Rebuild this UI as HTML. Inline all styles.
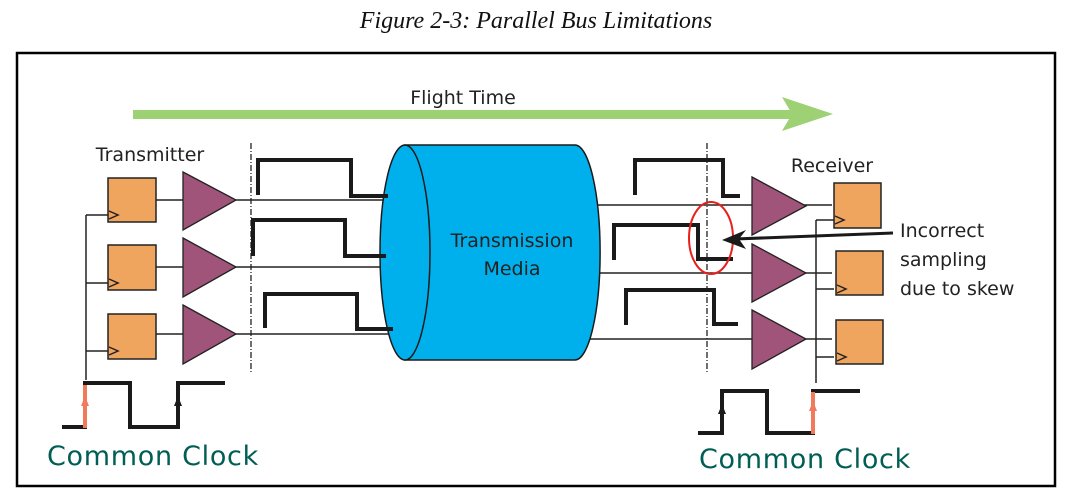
<!DOCTYPE html>
<html><head><meta charset="utf-8"><style>
body{margin:0;background:#fff;width:1065px;height:496px;overflow:hidden}
svg{display:block}
.s{font-family:"DejaVu Sans","Liberation Sans",sans-serif;fill:#222}
</style></head><body>
<svg width="1065" height="496" viewBox="0 0 1065 496">
<text x="536" y="28" text-anchor="middle" font-family="Liberation Serif,serif" font-style="italic" font-size="24" fill="#111">Figure 2-3: Parallel Bus Limitations</text>
<rect x="17" y="53" width="1038" height="433" fill="none" stroke="#000" stroke-width="2.5"/>
<rect x="133" y="110" width="660" height="9" fill="#9dd174"/>
<polygon points="782,97 833,114 782,131 792,114" fill="#9dd174"/>
<text x="463" y="104" text-anchor="middle" class="s" font-size="19">Flight Time</text>
<text x="150" y="161" text-anchor="middle" class="s" font-size="19">Transmitter</text>
<text x="832" y="172" text-anchor="middle" class="s" font-size="19">Receiver</text>
<g stroke="#222" stroke-width="1.5" fill="none">
<line x1="156" y1="200" x2="420" y2="200"/><line x1="156" y1="267" x2="420" y2="267"/><line x1="156" y1="334" x2="420" y2="334"/>
<line x1="590" y1="205" x2="832" y2="205"/><line x1="590" y1="273" x2="832" y2="273"/><line x1="590" y1="339" x2="832" y2="339"/>
<line x1="86" y1="215" x2="86" y2="380"/><line x1="86" y1="215" x2="108" y2="215"/><line x1="86" y1="283" x2="108" y2="283"/><line x1="86" y1="351" x2="108" y2="351"/>
<line x1="816" y1="220" x2="816" y2="383"/><line x1="816" y1="220" x2="834" y2="220"/><line x1="816" y1="289" x2="834" y2="289"/><line x1="816" y1="357" x2="834" y2="357"/>
</g>
<g stroke="#222" stroke-width="1.3" stroke-dasharray="6,2,1,2">
<line x1="251" y1="143" x2="251" y2="373"/><line x1="707" y1="143" x2="707" y2="373"/>
</g>
<g fill="#f0a55e" stroke="#222" stroke-width="1.5">
<rect x="108" y="178" width="48" height="44"/><rect x="108" y="245" width="48" height="45"/><rect x="108" y="314" width="48" height="45"/>
<rect x="834" y="183" width="47" height="45"/><rect x="836" y="251" width="47" height="44"/><rect x="836" y="320" width="47" height="44"/>
</g>
<g fill="none" stroke="#222" stroke-width="1.5">
<polyline points="109,211 118,215 109,219"/><polyline points="109,279 118,283 109,287"/><polyline points="109,347 118,351 109,355"/>
<polyline points="835,216 844,220 835,224"/><polyline points="837,285 846,289 837,293"/><polyline points="837,353 846,357 837,361"/>
</g>
<g fill="#a0547a" stroke="#222" stroke-width="1.3">
<polygon points="183,172 236,200 183,230"/><polygon points="183,238 236,267 183,297"/><polygon points="183,305 236,334 183,364"/>
<polygon points="752,177 806,206 752,235"/><polygon points="752,244 806,273 752,302"/><polygon points="752,310 806,339 752,369"/>
</g>
<g stroke="#1a1a1a" stroke-width="1.5">
<path d="M405,145 L575,145 A25,107 0 0 1 575,360 L405,360 Z" fill="#00b0ec"/>
<ellipse cx="405" cy="252.5" rx="25" ry="107.5" fill="#00b0ec"/>
</g>
<text x="512" y="247" text-anchor="middle" class="s" font-size="19">Transmission</text>
<text x="512" y="275" text-anchor="middle" class="s" font-size="19">Media</text>
<g fill="none" stroke="#1a1a1a" stroke-width="4">
<polyline points="258,195 258,160 351,160 351,196 388,196"/>
<polyline points="253,256 253,220 345,220 345,256 386,256"/>
<polyline points="265,328 265,294 357,294 357,329 393,329"/>
<polyline points="635,195 635,160 723,160 723,196 740,196"/>
<polyline points="614,260 614,225 698,225 698,259 733,259"/>
<polyline points="626,325 626,290 714,290 714,324 738,324"/>
<polyline points="62,427 85,427 85,383 130,383 130,427 178,427 178,383 225,383"/>
<polyline points="698,433 722,433 722,391 767,391 767,433 813,433 813,391 860,391"/>
</g>
<g stroke="#f07a5a" stroke-width="4"><line x1="85" y1="385" x2="85" y2="428"/><line x1="813" y1="392" x2="813" y2="434"/></g>
<polygon points="85,396 81,406 89,406" fill="#f07a5a"/><polygon points="813,401 809,411 817,411" fill="#f07a5a"/>
<polygon points="178,396 174,406 182,406" fill="#1a1a1a"/><polygon points="722,404 718,414 726,414" fill="#1a1a1a"/>
<ellipse cx="711" cy="238" rx="22" ry="36" fill="none" stroke="#e8201c" stroke-width="2"/>
<line x1="893" y1="233" x2="735" y2="239" stroke="#1a1a1a" stroke-width="3"/>
<polygon points="722,240 746,230 739,239 746,249" fill="#1a1a1a"/>
<text class="s" font-size="19"><tspan x="900" y="237">Incorrect</tspan><tspan x="900" y="266">sampling</tspan><tspan x="900" y="295">due to skew</tspan></text>
<text x="47" y="465" font-family="DejaVu Sans,sans-serif" font-size="27" fill="#005e55" letter-spacing="0.7">Common Clock</text>
<text x="699" y="468" font-family="DejaVu Sans,sans-serif" font-size="27" fill="#005e55" letter-spacing="0.7">Common Clock</text>
</svg>
</body></html>
